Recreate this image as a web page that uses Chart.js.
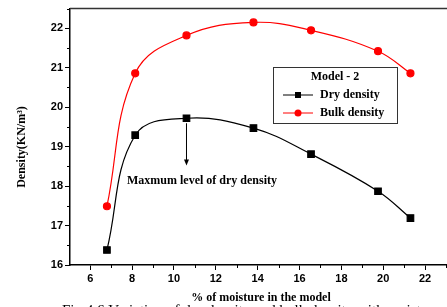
<!DOCTYPE html>
<html>
<head>
<meta charset="utf-8">
<script src="https://cdn.jsdelivr.net/npm/chart.js@4.4.1/dist/chart.umd.min.js"></script>
<style>
  html, body { margin: 0; padding: 0; background: #fff; overflow: hidden; }
  #wrap { width: 447px; height: 307px; overflow: hidden; }
</style>
</head>
<body>
<div id="wrap"><canvas id="densityChart" width="460" height="307"></canvas></div>
<script>
// moisture content (%) and densities
const moisture = [6.8, 8.15, 10.6, 13.8, 16.55, 19.75, 21.3];
const dryDensity = [16.38, 19.29, 19.72, 19.47, 18.81, 17.87, 17.19];
const bulkDensity = [17.49, 20.86, 21.82, 22.15, 21.95, 21.42, 20.86];

const xTicks = [6, 8, 10, 12, 14, 16, 18, 20, 22];
const xMinorTicks = [7, 9, 11, 13, 15, 17, 19, 21, 23];
const yTicks = [16, 17, 18, 19, 20, 21, 22];
const yMinorTicks = [16.5, 17.5, 18.5, 19.5, 20.5, 21.5, 22.5];

const serifBold = 'bold 12px "Liberation Serif", "DejaVu Serif", serif';

const toPoints = (xs, ys) => xs.map((x, i) => ({ x: x, y: ys[i] }));

// draws minor ticks, frame, axis titles, legend box and the annotation arrow
const decorations = {
  id: 'decorations',
  afterDraw(chart) {
    const ctx = chart.ctx;
    const area = chart.chartArea;
    const xs = chart.scales.x;
    const ys = chart.scales.y;
    ctx.save();

    // top frame line
    ctx.strokeStyle = '#333';
    ctx.lineWidth = 1.5;
    ctx.beginPath();
    ctx.moveTo(area.left, area.top);
    ctx.lineTo(chart.width, area.top);
    ctx.stroke();

    // minor ticks
    ctx.strokeStyle = '#000';
    ctx.lineWidth = 1;
    ctx.beginPath();
    xMinorTicks.forEach(v => {
      const px = Math.round(xs.getPixelForValue(v)) + 0.5;
      ctx.moveTo(px, area.bottom);
      ctx.lineTo(px, area.bottom + 3);
    });
    yMinorTicks.forEach(v => {
      const py = Math.round(ys.getPixelForValue(v)) + 0.5;
      ctx.moveTo(area.left, py);
      ctx.lineTo(area.left - 3, py);
    });
    ctx.stroke();

    // axis titles
    ctx.fillStyle = '#000';
    ctx.font = serifBold;
    ctx.textAlign = 'center';
    ctx.textBaseline = 'middle';
    ctx.fillText('% of moisture in the model', 261, 298);

    ctx.save();
    ctx.translate(22, 147);
    ctx.rotate(-Math.PI / 2);
    ctx.fillText('Density(KN/m\u00B3)', 0, 0);
    ctx.restore();

    // caption (cut off at the bottom edge)
    ctx.font = '15px "Liberation Serif", serif';
    ctx.textAlign = 'left';
    ctx.textBaseline = 'alphabetic';
    ctx.fillText('Fig 4.6 Variation of dry density and bulk density with moisture content', 62, 315);

    // annotation arrow
    const ax = xs.getPixelForValue(moisture[2]);
    const ay0 = ys.getPixelForValue(dryDensity[2]) + 5;
    const ay1 = ys.getPixelForValue(18.52);
    ctx.strokeStyle = '#000';
    ctx.lineWidth = 1;
    ctx.beginPath();
    ctx.moveTo(ax, ay0);
    ctx.lineTo(ax, ay1 - 5);
    ctx.stroke();
    ctx.beginPath();
    ctx.moveTo(ax - 2.5, ay1 - 6);
    ctx.lineTo(ax + 2.5, ay1 - 6);
    ctx.lineTo(ax, ay1);
    ctx.closePath();
    ctx.fill();

    ctx.font = serifBold;
    ctx.textAlign = 'left';
    ctx.textBaseline = 'middle';
    ctx.fillText('Maxmum level of dry density', 127, 181);

    // legend
    ctx.strokeStyle = '#333';
    ctx.lineWidth = 1;
    ctx.strokeRect(273.5, 67.5, 124, 56);
    ctx.textAlign = 'center';
    ctx.fillText('Model - 2', 335, 77);

    ctx.textAlign = 'left';
    ctx.strokeStyle = '#000';
    ctx.beginPath();
    ctx.moveTo(283, 95);
    ctx.lineTo(313, 95);
    ctx.stroke();
    ctx.fillRect(295, 92, 6, 6);
    ctx.fillText('Dry density', 320, 95);

    ctx.strokeStyle = '#ff0000';
    ctx.fillStyle = '#ff0000';
    ctx.beginPath();
    ctx.moveTo(283, 113);
    ctx.lineTo(313, 113);
    ctx.stroke();
    ctx.beginPath();
    ctx.arc(298, 113, 3.5, 0, Math.PI * 2);
    ctx.fill();
    ctx.fillStyle = '#000';
    ctx.fillText('Bulk density', 320, 113);

    ctx.restore();
  }
};

const ctx = document.getElementById('densityChart').getContext('2d');
const densityChart = new Chart(ctx, {
  type: 'line',
  data: {
    datasets: [{
      label: 'Dry density',
      data: toPoints(moisture, dryDensity),
      borderColor: '#000',
      backgroundColor: '#000',
      borderWidth: 1.2,
      pointStyle: 'rect',
      pointRadius: 4.6,
      tension: 0.4,
      fill: false
    }, {
      label: 'Bulk density',
      data: toPoints(moisture, bulkDensity),
      borderColor: '#ff0000',
      backgroundColor: '#ff0000',
      borderWidth: 1.2,
      pointStyle: 'circle',
      pointRadius: 3.5,
      tension: 0.4,
      fill: false
    }]
  },
  options: {
    responsive: false,
    animation: false,
    layout: { padding: { left: 0, top: 8, right: 0, bottom: 0 } },
    plugins: {
      legend: { display: false },
      tooltip: { enabled: false }
    },
    scales: {
      x: {
        type: 'linear',
        min: 5.035,
        max: 23.39,
        afterBuildTicks: scale => { scale.ticks = xTicks.map(v => ({ value: v })); },
        afterFit: scale => { scale.height = 42; },
        grid: { drawOnChartArea: false, drawTicks: true, tickLength: 5, color: '#000', tickColor: '#000' },
        border: { display: true, color: '#000', width: 1.5 },
        ticks: {
          padding: 2,
          color: '#000',
          maxRotation: 0,
          font: { family: '"Liberation Sans", Arial, sans-serif', size: 11, weight: 'bold' }
        }
      },
      y: {
        min: 16,
        max: 22.5,
        afterBuildTicks: scale => { scale.ticks = yTicks.map(v => ({ value: v })); },
        afterFit: scale => { scale.width = 70; },
        grid: { drawOnChartArea: false, drawTicks: true, tickLength: 5, color: '#000', tickColor: '#000' },
        border: { display: true, color: '#000', width: 1.5 },
        ticks: {
          padding: 2,
          color: '#000',
          font: { family: '"Liberation Sans", Arial, sans-serif', size: 11, weight: 'bold' }
        }
      }
    }
  },
  plugins: [decorations]
});
</script>
</body>
</html>
